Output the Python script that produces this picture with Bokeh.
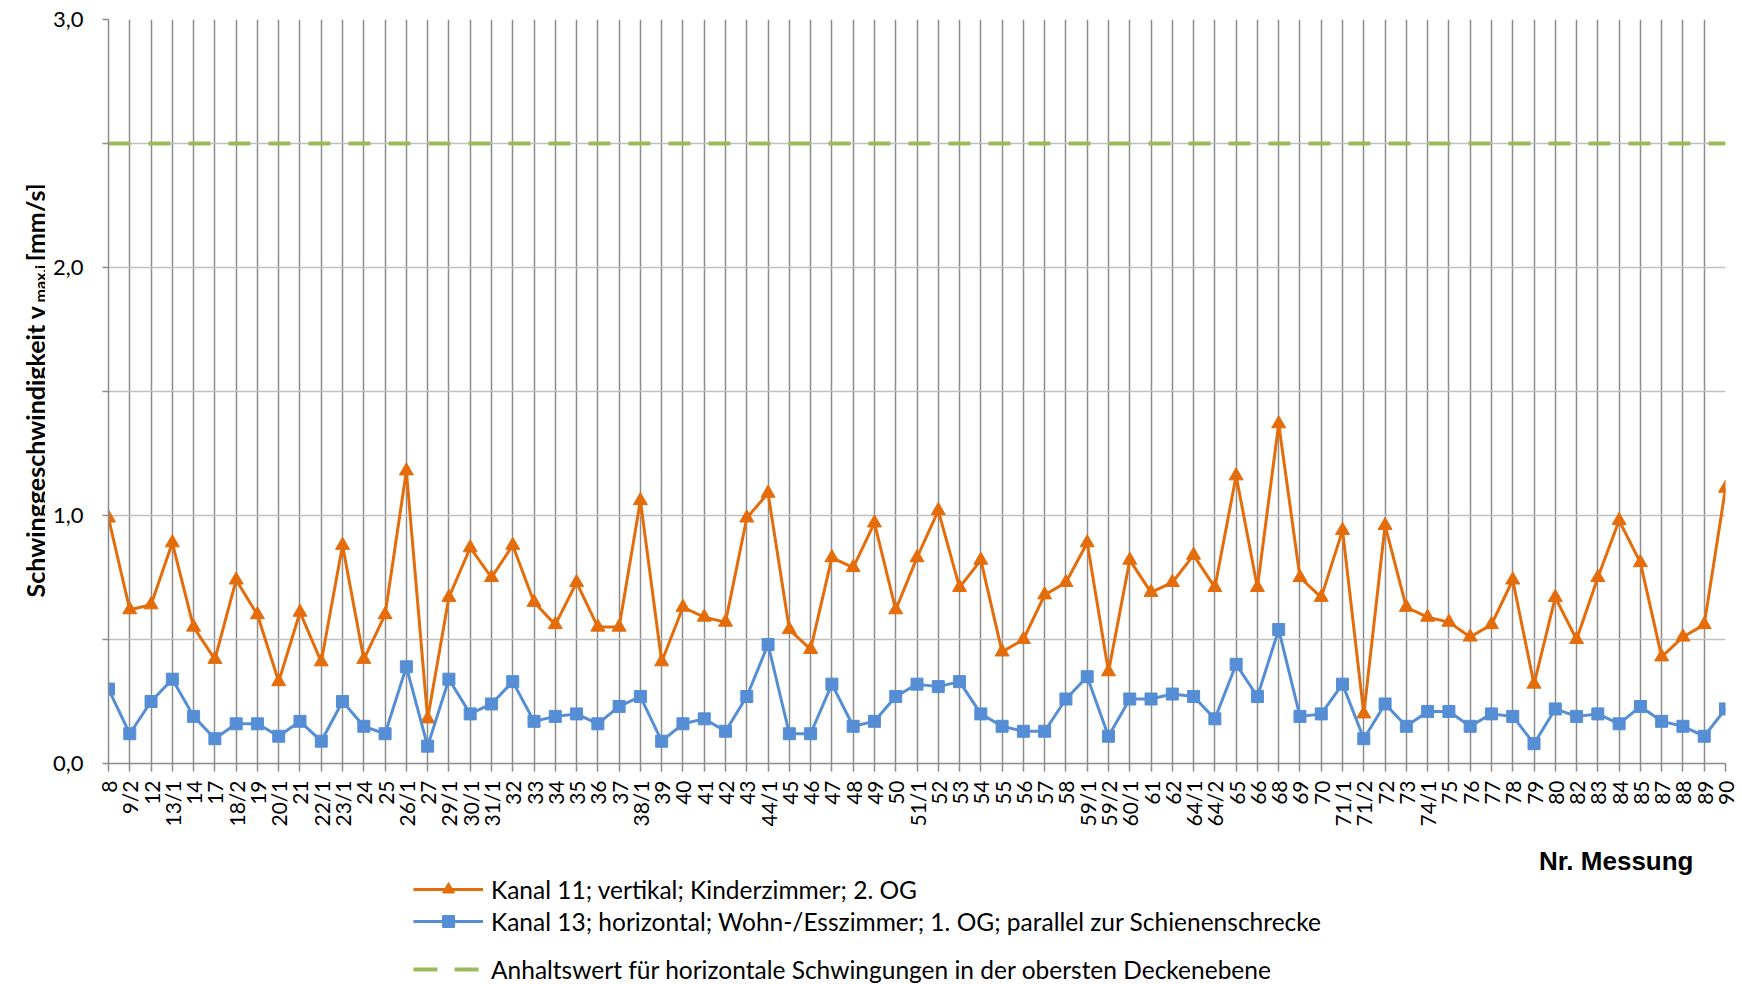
import math
from bokeh.plotting import figure
from bokeh.layouts import row, column
from bokeh.models import Range1d, FixedTicker, Legend, LegendItem, Label
from bokeh.embed import file_html
from bokeh.resources import INLINE

categories = ["8", "9/2", "12", "13/1", "14", "17", "18/2", "19", "20/1", "21",
              "22/1", "23/1", "24", "25", "26/1", "27", "29/1", "30/1", "31/1", "32",
              "33", "34", "35", "36", "37", "38/1", "39", "40", "41", "42",
              "43", "44/1", "45", "46", "47", "48", "49", "50", "51/1", "52",
              "53", "54", "55", "56", "57", "58", "59/1", "59/2", "60/1", "61",
              "62", "64/1", "64/2", "65", "66", "68", "69", "70", "71/1", "71/2",
              "72", "73", "74/1", "75", "76", "77", "78", "79", "80", "82",
              "83", "84", "85", "87", "88", "89", "90"]

kanal11 = [0.99, 0.62, 0.64, 0.89, 0.55, 0.42, 0.74, 0.60, 0.33, 0.61,
           0.41, 0.88, 0.42, 0.60, 1.18, 0.18, 0.67, 0.87, 0.75, 0.88,
           0.65, 0.56, 0.73, 0.55, 0.55, 1.06, 0.41, 0.63, 0.59, 0.57,
           0.99, 1.09, 0.54, 0.46, 0.83, 0.79, 0.97, 0.62, 0.83, 1.02,
           0.71, 0.82, 0.45, 0.50, 0.68, 0.73, 0.89, 0.37, 0.82, 0.69,
           0.73, 0.84, 0.71, 1.16, 0.71, 1.37, 0.75, 0.67, 0.94, 0.20,
           0.96, 0.63, 0.59, 0.57, 0.51, 0.56, 0.74, 0.32, 0.67, 0.50,
           0.75, 0.98, 0.81, 0.43, 0.51, 0.56, 1.11]

kanal13 = [0.30, 0.12, 0.25, 0.34, 0.19, 0.10, 0.16, 0.16, 0.11, 0.17,
           0.09, 0.25, 0.15, 0.12, 0.39, 0.07, 0.34, 0.20, 0.24, 0.33,
           0.17, 0.19, 0.20, 0.16, 0.23, 0.27, 0.09, 0.16, 0.18, 0.13,
           0.27, 0.48, 0.12, 0.12, 0.32, 0.15, 0.17, 0.27, 0.32, 0.31,
           0.33, 0.20, 0.15, 0.13, 0.13, 0.26, 0.35, 0.11, 0.26, 0.26,
           0.28, 0.27, 0.18, 0.40, 0.27, 0.54, 0.19, 0.20, 0.32, 0.10,
           0.24, 0.15, 0.21, 0.21, 0.15, 0.20, 0.19, 0.08, 0.22, 0.19,
           0.20, 0.16, 0.23, 0.17, 0.15, 0.11, 0.22]

anhaltswert_value = 2.5
anhaltswert = [anhaltswert_value] * len(categories)

y_ticks = [0.0, 0.5, 1.0, 1.5, 2.0, 2.5, 3.0]
y_tick_labels = ["0,0", "", "1,0", "", "2,0", "", "3,0"]

series_labels = ["Kanal 11; vertikal; Kinderzimmer; 2. OG",
                 "Kanal 13; horizontal; Wohn-/Esszimmer; 1. OG; parallel zur Schienenschrecke",
                 "Anhaltswert für horizontale Schwingungen in der obersten Deckenebene"]

y_title_main = "Schwinggeschwindigkeit v"
y_title_sub = "max,i"
y_title_unit = "[mm/s]"
x_title = "Nr. Messung"

ORANGE = "#E46C0A"
BLUE = "#558ED5"
GREEN = "#9BBB59"
GRID_V = "#8C8C8C"
GRID_H = "#C0C0C0"
FONT = "Lato"

TOTAL_W, TOTAL_H = 1742, 984
LEFT_W = 45
MAIN_H = 845
FRAME_LEFT = 108   # page x of the plot area's left edge


def blank(fig):
    fig.outline_line_color = None
    fig.background_fill_color = "white"
    fig.border_fill_color = "white"
    fig.grid.grid_line_color = None


x = list(range(len(categories)))

# ---------------- main chart ----------------
p = figure(width=TOTAL_W - LEFT_W, height=MAIN_H, output_backend="svg", toolbar_location=None,
           x_range=Range1d(0, len(categories) - 1), y_range=Range1d(0, 3),
           min_border_left=FRAME_LEFT - LEFT_W, min_border_right=17, min_border_top=19,
           min_border_bottom=MAIN_H - 763)
p.outline_line_color = None
p.background_fill_color = "white"
p.border_fill_color = "white"

p.xgrid.ticker = FixedTicker(ticks=x)
p.xgrid.grid_line_color = GRID_V
p.xgrid.grid_line_width = 1.5
p.ygrid.ticker = FixedTicker(ticks=y_ticks)
p.ygrid.grid_line_color = GRID_H
p.ygrid.grid_line_width = 1.5

xa = p.xaxis[0]
xa.ticker = FixedTicker(ticks=x)
xa.major_label_overrides = {i: c for i, c in enumerate(categories)}
xa.major_label_orientation = math.pi / 2
xa.major_label_text_font = FONT
xa.major_label_text_font_size = "21px"
xa.major_label_text_color = "black"
xa.axis_line_color = GRID_V
xa.axis_line_width = 1.5
xa.major_tick_line_color = GRID_V
xa.major_tick_line_width = 1.5
xa.major_tick_out = 8
xa.major_tick_in = 0
xa.minor_tick_line_color = None
xa.major_label_standoff = 9

ya = p.yaxis[0]
ya.ticker = FixedTicker(ticks=y_ticks)
ya.major_label_overrides = {t: l for t, l in zip(y_ticks, y_tick_labels)}
ya.major_label_text_font = FONT
ya.major_label_text_font_size = "22px"
ya.major_label_text_color = "black"
ya.axis_line_color = GRID_V
ya.axis_line_width = 1.5
ya.major_tick_line_color = GRID_V
ya.major_tick_line_width = 1.5
ya.major_tick_out = 6
ya.major_tick_in = 0
ya.minor_tick_line_color = None
ya.major_label_standoff = 19

p.line(x, kanal11, line_color=ORANGE, line_width=3)
p.scatter(x, kanal11, marker="triangle", size=14, fill_color=ORANGE, line_color=ORANGE)
p.line(x, kanal13, line_color=BLUE, line_width=3)
p.scatter(x, kanal13, marker="square", size=12, fill_color=BLUE, line_color=BLUE)
p.line(x, anhaltswert, line_color=GREEN, line_width=4, line_dash="22 18")

# ---------------- y-axis title panel ----------------
yl = figure(width=LEFT_W, height=TOTAL_H, output_backend="svg", toolbar_location=None,
            x_range=Range1d(0, 1), y_range=Range1d(0, 1),
            x_axis_location=None, y_axis_location=None, min_border=0)
blank(yl)
yl.add_layout(Label(x=34, y=TOTAL_H - 305, x_units="screen", y_units="screen",
                    text=y_title_main, angle=math.pi / 2,
                    text_font=FONT, text_font_style="bold", text_font_size="25px",
                    text_align="right", text_baseline="alphabetic", text_color="black"))
yl.add_layout(Label(x=39, y=TOTAL_H - 302, x_units="screen", y_units="screen",
                    text=y_title_sub, angle=math.pi / 2,
                    text_font=FONT, text_font_style="bold", text_font_size="16px",
                    text_align="left", text_baseline="alphabetic", text_color="black"))
yl.add_layout(Label(x=34, y=TOTAL_H - 183, x_units="screen", y_units="screen",
                    text=y_title_unit, angle=math.pi / 2,
                    text_font=FONT, text_font_style="bold", text_font_size="25px",
                    text_align="right", text_baseline="alphabetic", text_color="black"))

# ---------------- legend + x title panel ----------------
# (its plot area is aligned with the main chart's plot area by the layout)
LEG_H = TOTAL_H - MAIN_H
lg = figure(width=TOTAL_W - LEFT_W, height=LEG_H, output_backend="svg", toolbar_location=None,
            x_range=Range1d(1000, 1001), y_range=Range1d(1000, 1001),
            x_axis_location=None, y_axis_location=None, min_border=0)
blank(lg)
# legend-only renderers: same series, kept outside the visible ranges of this panel
d1 = lg.line(x, kanal11, line_color=ORANGE, line_width=3)
d1m = lg.scatter(x, kanal11, marker="triangle", size=13, fill_color=ORANGE, line_color=ORANGE)
d2 = lg.line(x, kanal13, line_color=BLUE, line_width=3)
d2m = lg.scatter(x, kanal13, marker="square", size=11, fill_color=BLUE, line_color=BLUE)
d3 = lg.line(x, anhaltswert, line_color=GREEN, line_width=4, line_dash="24 17")

legend_offsets = [80, 48, 0]          # distance of each legend row box from the panel bottom
ITEM_H = 30
for label, rends, off in zip(series_labels, [[d1, d1m], [d2, d2m], [d3]], legend_offsets):
    leg = Legend(items=[LegendItem(label=label, renderers=rends)],
                 location=(413 - FRAME_LEFT, off),
                 orientation="vertical")
    leg.background_fill_alpha = 0
    leg.border_line_color = None
    leg.label_text_font = FONT
    leg.label_text_font_size = "24.5px"
    leg.label_text_color = "black"
    leg.glyph_width = 70
    leg.glyph_height = ITEM_H
    leg.label_height = ITEM_H
    leg.spacing = 0
    leg.padding = 0
    leg.margin = 0
    leg.label_standoff = 8
    lg.add_layout(leg)

lg.add_layout(Label(x=1693 - FRAME_LEFT, y=TOTAL_H - 869 + 9, x_units="screen", y_units="screen",
                    text=x_title, text_font="Liberation Sans", text_font_style="bold",
                    text_font_size="26px", text_align="right", text_baseline="alphabetic",
                    text_color="black"))

layout = row(yl, column(p, lg, spacing=0), spacing=0)

open("out.html", "w").write(file_html(layout, INLINE))
